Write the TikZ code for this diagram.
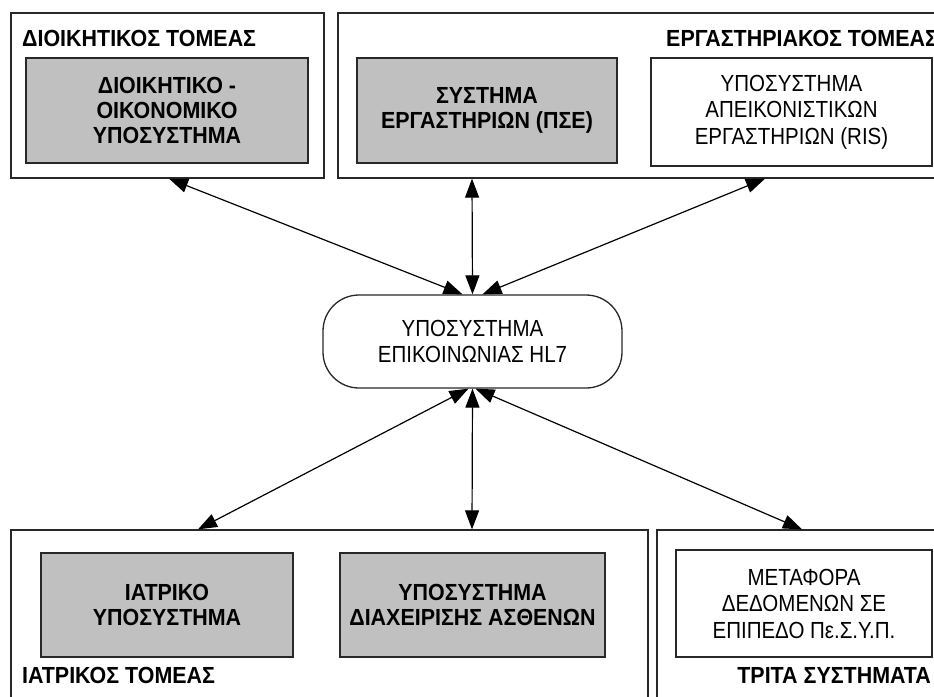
\documentclass[tikz,border=0pt]{standalone}
\usepackage{fontspec}
\setmainfont[FakeStretch=0.88,BoldFeatures={FakeStretch=0.92}]{Liberation Sans}
\usetikzlibrary{arrows.meta}
\definecolor{boxgray}{RGB}{192,192,192}
\definecolor{edge}{RGB}{40,40,40}
\tikzset{
  every node/.style={font=\fontsize{23.3}{25}\selectfont},
  sector/.style={draw=edge, line width=1.3pt, fill=white, inner sep=0pt},
  grayunit/.style={draw=edge, line width=1.3pt, fill=boxgray, inner sep=0pt,
    align=center, font=\fontsize{23.3}{25}\selectfont\bfseries},
  whiteunit/.style={draw=edge, line width=1.3pt, fill=white, inner sep=0pt,
    align=center, font=\fontsize{23.3}{26.5}\selectfont},
  hubbox/.style={draw=edge, line width=1.3pt, fill=white, inner sep=0pt,
    rounded corners=36pt, align=center, font=\fontsize{23.3}{26.5}\selectfont},
  sectortitle/.style={anchor=base west, inner sep=0pt,
    font=\fontsize{23.3}{25}\selectfont\bfseries},
  link/.style={line width=1.2pt, draw=black,
    {Triangle[length=19pt,width=14pt]}-{Triangle[length=19pt,width=14pt]}}
}
\begin{document}
\begin{tikzpicture}[x=1pt,y=-1pt]
\clip (0,0) rectangle (934,696);
\fill[white] (0,0) rectangle (934,696);

% sector frames
\node[sector, minimum width=313pt, minimum height=165pt] (secAdmin) at (167.5,95.5) {};
\node[sector, minimum width=607pt, minimum height=165pt] (secLab) at (641.5,95.5) {};
\node[sector, minimum width=637pt, minimum height=180pt] (secMed) at (329.5,620) {};
\node[sector, minimum width=288pt, minimum height=180pt] (secThird) at (801,620) {};

% sector titles
\node[sectortitle] (tAdmin) at (22,46.5) {ΔΙΟΙΚΗΤΙΚΟΣ ΤΟΜΕΑΣ};
\node[sectortitle] (tLab) at (666,46.5) {ΕΡΓΑΣΤΗΡΙΑΚΟΣ ΤΟΜΕΑΣ};
\node[sectortitle] (tMed) at (22,683) {ΙΑΤΡΙΚΟΣ ΤΟΜΕΑΣ};
\node[sectortitle, anchor=base east] (tThird) at (931,683) {ΤΡΙΤΑ ΣΥΣΤΗΜΑΤΑ};

% subsystems
\node[grayunit, minimum width=282pt, minimum height=105pt] (admin) at (167,110.5)
  {ΔΙΟΙΚΗΤΙΚΟ -\\ΟΙΚΟΝΟΜΙΚΟ\\ΥΠΟΣΥΣΤΗΜΑ};
\node[grayunit, minimum width=260pt, minimum height=105pt] (lis) at (487,110.5)
  {ΣΥΣΤΗΜΑ\\ΕΡΓΑΣΤΗΡΙΩΝ (ΠΣΕ)};
\node[whiteunit, minimum width=281pt, minimum height=108pt] (ris) at (791.5,112)
  {ΥΠΟΣΥΣΤΗΜΑ\\ΑΠΕΙΚΟΝΙΣΤΙΚΩΝ\\ΕΡΓΑΣΤΗΡΙΩΝ (RIS)};
\node[grayunit, minimum width=252pt, minimum height=104pt] (medsys) at (167,605)
  {ΙΑΤΡΙΚΟ\\ΥΠΟΣΥΣΤΗΜΑ};
\node[grayunit, minimum width=265pt, minimum height=104pt] (adt) at (472.5,605)
  {ΥΠΟΣΥΣΤΗΜΑ\\ΔΙΑΧΕΙΡΙΣΗΣ ΑΣΘΕΝΩΝ};
\node[whiteunit, minimum width=256pt, minimum height=107pt] (transfer) at (804,603.5)
  {ΜΕΤΑΦΟΡΑ\\ΔΕΔΟΜΕΝΩΝ ΣΕ\\ΕΠΙΠΕΔΟ Πε.Σ.Υ.Π.};

% communication hub
\node[hubbox, minimum width=299pt, minimum height=93pt] (hub) at (472.5,341.5)
  {ΥΠΟΣΥΣΤΗΜΑ\\ΕΠΙΚΟΙΝΩΝΙΑΣ HL7};

% connector ends on the sector frames and the hub
\coordinate (pAdmin) at (secAdmin.south -| 169,0);
\coordinate (pLis) at (secLab.south -| 472,0);
\coordinate (pRis) at (secLab.south -| 765,0);
\coordinate (pMed) at (secMed.north -| 198,0);
\coordinate (pAdt) at (secMed.north -| 472,0);
\coordinate (pThird) at (secThird.north -| 802,0);
\coordinate (hTopL) at ([xshift=-10pt]hub.north);
\coordinate (hTopM) at (hub.north);
\coordinate (hTopR) at ([xshift=10pt]hub.north);
\coordinate (hBotL) at ([xshift=-4pt]hub.south);
\coordinate (hBotM) at (hub.south);
\coordinate (hBotR) at ([xshift=3pt]hub.south);

\draw[link] (pAdmin) -- (hTopL);
\draw[link] (pLis) -- (hTopM);
\draw[link] (pRis) -- (hTopR);
\draw[link] (hBotL) -- (pMed);
\draw[link] (hBotM) -- (pAdt);
\draw[link] (hBotR) -- (pThird);
\end{tikzpicture}
\end{document}
